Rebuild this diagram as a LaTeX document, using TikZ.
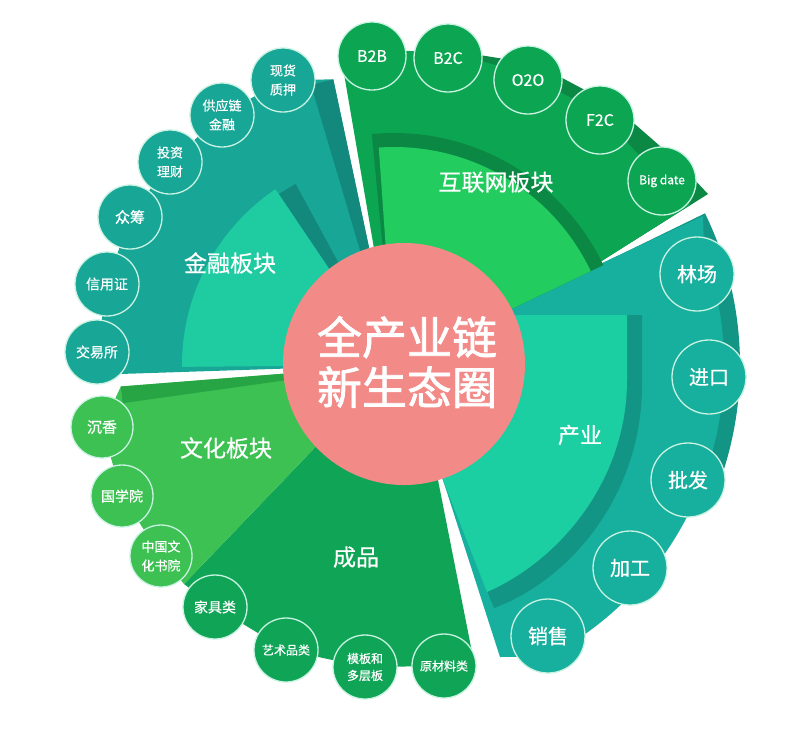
\documentclass[tikz,border=0pt]{standalone}
\usepackage{fontspec}
\newfontfamily\cjk[FakeBold=0.6]{Noto Sans CJK SC}
\newfontfamily\cjkcore[FakeBold=1.6]{Noto Sans CJK SC}
\usetikzlibrary{calc}
\definecolor{finT}{HTML}{18A697}
\definecolor{finD}{HTML}{12897C}
\definecolor{finL}{HTML}{1FCCA2}
\definecolor{netG}{HTML}{0CA552}
\definecolor{netD}{HTML}{0B8944}
\definecolor{netB}{HTML}{22CC5E}
\definecolor{indT}{HTML}{17AF9E}
\definecolor{indD}{HTML}{129584}
\definecolor{indL}{HTML}{1CCFA3}
\definecolor{culG}{HTML}{3CC152}
\definecolor{culD}{HTML}{27A545}
\definecolor{proG}{HTML}{10A556}
\definecolor{pinkC}{HTML}{F28A87}
\definecolor{ring}{HTML}{C8F2E2}
\newcommand{\myfz}[2]{\cjk\fontsize{#1}{#2}\selectfont}
\tikzset{
  bub/.style={circle, draw=ring, line width=1.3pt, inner sep=0pt, align=center, text=white},
  fb/.style={bub, fill=finT, minimum size=64pt},
  nb/.style={bub, fill=netG, minimum size=68pt},
  ib/.style={bub, fill=indT, minimum size=74pt},
  cb/.style={bub, fill=culG, minimum size=62pt},
  pb/.style={bub, fill=proG, minimum size=64pt},
  lab/.style={text=white, inner sep=0pt, align=center}
}
\begin{document}
\begin{tikzpicture}[x=1pt,y=-1pt]
\useasboundingbox[fill=white] (0,0) rectangle (800,732);
\coordinate (C) at (394,365);

% ---- industry
\fill[indD] (C) -- ($(C)+(-26:346)$) arc[start angle=-26, end angle=22, radius=346] -- cycle;
\fill[indT] (C) -- (600,264) -- (703,216) -- ($(C)+(-20:330)$) arc[start angle=-20, end angle=62, radius=330] -- (500,657) -- (443,480) -- (410,378) -- cycle;
\fill[indD] (420,315) -- (642,315) -- (642,385) .. controls (642,495) and (570,580) .. (494,608) -- (443,480) -- (410,378) -- cycle;
\fill[indL] (420,315) -- (627,315) -- (627,380) .. controls (627,480) and (560,560) .. (487,592) -- (443,480) -- (410,378) -- cycle;

% ---- finished products
\fill[proG] (C) -- (184,584) -- (215,607) -- (286,650) -- (365,667) -- (444,666) -- (472,652) -- (438,480) -- (414,368) -- cycle;

% ---- culture
\fill[culG] (C) -- ($(C)+(-184.5:274)$) -- (102,427) -- (122,496) -- (161,556) -- (184,584) -- cycle;
\fill[culD] (C) -- ($(C)+(-184.5:274)$) -- ($(C)+(-188:274)$) -- cycle;

% ---- finance
\fill[finT] (C) -- (120,374) -- (97,352) -- (107,284) -- (130,217) -- (170,162) -- (222,115) -- (283,80) -- ($(C)+(-102:292)$) -- cycle;
\fill[finD] (C) -- ($(C)+(-102:292)$) -- ($(C)+(-106.5:292)$) -- cycle;
\fill[finD] (C) -- ($(C)+(-118.5:206)$) arc[start angle=-118.5, end angle=-124, radius=206] -- cycle;
\fill[finL] (C) -- ($(C)+(-124:212)$) arc[start angle=-124, end angle=-180.5, radius=212] -- cycle;

% ---- internet
\fill[netD] (C) -- (448,50) -- (536,64) -- (613,105) -- (676,160) -- (708,194) -- (600,262) -- cycle;
\fill[netG] (C) -- (342,62) -- (372,50) -- (448,52) -- (528,74) -- (600,114) -- (658,175) -- (690,205) -- (600,262) -- cycle;
\fill[netD] (C) -- ($(C)+(-25.5:232)$) arc[start angle=-25.5, end angle=-95.5, radius=232] -- cycle;
\fill[netB] (C) -- ($(C)+(-25.5:218)$) arc[start angle=-25.5, end angle=-94, radius=218] -- cycle;

% ---- core
\node[circle, fill=pinkC, minimum size=242pt, inner sep=0pt] (core) at (404,364) {};
\node[lab, font=\cjkcore\fontsize{45}{50}\selectfont] (coretext) at (407,362) {全产业链\\新生态圈};

% ---- sector labels
\node[lab, font=\myfz{23}{28}] (lnet) at (496,182) {互联网板块};
\node[lab, font=\myfz{23}{28}] (lfin) at (230,263) {金融板块};
\node[lab, font=\myfz{23}{28}] (lcul) at (226,448) {文化板块};
\node[lab, font=\myfz{23}{28}] (lpro) at (356,557) {成品};
\node[lab, font=\myfz{22}{28}] (lind) at (580,435) {产业};

% ---- finance bubbles
\node[fb, font=\myfz{14}{18}] (f1) at (97,352) {交易所};
\node[fb, font=\myfz{14}{18}] (f2) at (107,284) {信用证};
\node[fb, font=\myfz{15}{18}] (f3) at (130,217) {众筹};
\node[fb, font=\myfz{13}{19}] (f4) at (170,162) {投资\\理财};
\node[fb, font=\myfz{13}{19}] (f5) at (222,115) {供应链\\金融};
\node[fb, font=\myfz{13}{19}] (f6) at (283,80) {现货\\质押};

% ---- internet bubbles
\node[nb, font=\myfz{16}{18}] (n1) at (372,56) {B2B};
\node[nb, font=\myfz{16}{18}] (n2) at (448,58) {B2C};
\node[nb, font=\myfz{16}{18}] (n3) at (528,80) {O2O};
\node[nb, font=\myfz{16}{18}] (n4) at (600,120) {F2C};
\node[nb, font=\myfz{12}{14}] (n5) at (662,181) {Big date};

% ---- industry bubbles
\node[ib, font=\myfz{20}{24}] (i1) at (697,274) {林场};
\node[ib, font=\myfz{20}{24}] (i2) at (709,377) {进口};
\node[ib, font=\myfz{20}{24}] (i3) at (688,480) {批发};
\node[ib, font=\myfz{20}{24}] (i4) at (630,568) {加工};
\node[ib, font=\myfz{20}{24}] (i5) at (548,636) {销售};

% ---- culture bubbles
\node[cb, font=\myfz{15}{18}] (c1) at (102,427) {沉香};
\node[cb, font=\myfz{14}{18}] (c2) at (122,496) {国学院};
\node[cb, font=\myfz{13}{19}] (c3) at (161,556) {中国文\\化书院};

% ---- product bubbles
\node[pb, font=\myfz{14}{18}] (p1) at (215,607) {家具类};
\node[pb, font=\myfz{12}{16}] (p2) at (286,650) {艺术品类};
\node[pb, font=\myfz{12}{17}] (p3) at (365,667) {模板和\\多层板};
\node[pb, font=\myfz{12}{16}] (p4) at (444,666) {原材料类};
\end{tikzpicture}
\end{document}
